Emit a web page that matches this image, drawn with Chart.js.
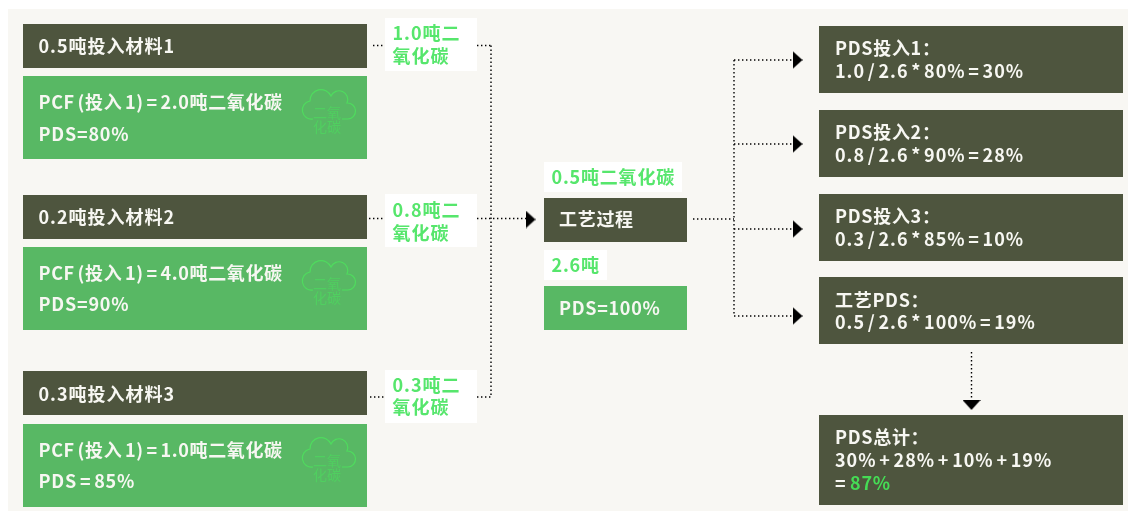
<!DOCTYPE html>
<html lang="zh"><head><meta charset="utf-8">
<style>html,body{margin:0;padding:0;background:#fff}canvas{display:block}</style>
<script src="https://cdn.jsdelivr.net/npm/chart.js@4/dist/chart.umd.min.js"></script>
</head><body><canvas id="c" width="1128" height="511"></canvas>
<script>
const inputLabels=['0.5吨投入材料1','0.2吨投入材料2','0.3吨投入材料3'];
const pcfLabels=['PCF (投入 1) = 2.0吨二氧化碳','PCF (投入 1) = 4.0吨二氧化碳','PCF (投入 1) = 1.0吨二氧化碳'];
const pdsLabels=['PDS=80%','PDS=90%','PDS = 85%'];
const co2Labels=[['1.0吨二','氧化碳'],['0.8吨二','氧化碳'],['0.3吨二','氧化碳']];
const processLabels=['0.5吨二氧化碳','工艺过程','2.6吨','PDS=100%'];
const resultTitles=['PDS投入1：','PDS投入2：','PDS投入3：','工艺PDS：','PDS总计：'];
const resultFormulas=['1.0 / 2.6 * 80% = 30%','0.8 / 2.6 * 90% = 28%','0.3 / 2.6 * 85% = 10%','0.5 / 2.6 * 100% = 19%','30% + 28% + 10% + 19%'];
const totalLabel='87%';
const cloudLabel=['二氧','化碳'];

const DARK='#4e553e',GREEN='#58b864',LIME='#56e66c',PANEL='#f8f7f3',WHITE='#ffffff';
const FONT='"Noto Sans CJK SC","Noto Sans",sans-serif';

const rects=[
 [8,9,1128,511,PANEL],
 [23,24,367,68,DARK],[23,76,367,159,GREEN],
 [23,195,367,239,DARK],[23,247,367,330,GREEN],
 [23,371,367,415,DARK],[23,424,367,507,GREEN],
 [385,18,477,71,WHITE],[385,194,477,247,WHITE],[385,370,477,423,WHITE],
 [544,162,682,192,WHITE],[544,198,687,242,DARK],[544,250,607,280,WHITE],[544,286,687,330,GREEN],
 [819,26,1123,93,DARK],[819,110,1123,177,DARK],[819,194,1123,261,DARK],[819,277,1123,344,DARK],[819,415,1123,505,DARK]
];
const W='#f7f7f2';
// [text, x, baseline, colour, letterSpacing, wordSpacing]
const texts=[
 [inputLabels[0],38.5,53,W,1,0],[inputLabels[1],38.5,224,W,1,0],[inputLabels[2],38.5,401,W,1,0],
 [pcfLabels[0],38.5,109,W,.65,-2],[pcfLabels[1],38.5,280,W,.65,-2],[pcfLabels[2],38.5,457,W,.65,-2],
 [pdsLabels[0],38.5,141,W,.8,0],[pdsLabels[1],38.5,311,W,.8,0],[pdsLabels[2],38.5,488,W,.8,-2],
 [co2Labels[0][0],392.5,40,LIME,1,0],[co2Labels[0][1],392.5,63,LIME,1,0],
 [co2Labels[1][0],392.5,217,LIME,1,0],[co2Labels[1][1],392.5,240,LIME,1,0],
 [co2Labels[2][0],392.5,392,LIME,1,0],[co2Labels[2][1],392.5,414,LIME,1,0],
 [processLabels[0],551.5,184,LIME,.8,0],[processLabels[1],559,226,W,.7,0],[processLabels[2],551.5,272,LIME,.8,0],[processLabels[3],559,315,W,.7,0],
 [resultTitles[0],835,55,W,.7,0],[resultFormulas[0],835,78,W,1,-2.4],
 [resultTitles[1],835,139,W,.7,0],[resultFormulas[1],835,162,W,1,-2.4],
 [resultTitles[2],835,223,W,.7,0],[resultFormulas[2],835,246,W,1,-2.4],
 [resultTitles[3],835,307,W,.7,0],[resultFormulas[3],835,329,W,1,-2.4],
 [resultTitles[4],835,444,W,.7,0],[resultFormulas[4],835,467,W,1,-2.4],
 ['=',835,490,W,.5,0],[totalLabel,850,490,'#45dc55',.8,0]
];
const cloudTops=[76,247,424];

const links=[
 [[373,45.5],[385,45.5]],[[477,45.5],[491,45.5]],
 [[491,45.5],[491,397]],
 [[369,218.5],[385,218.5]],[[477,218.5],[526,218.5]],
 [[370,397],[385,397]],[[477,397],[491,397]],
 [[693,219],[734,219]],[[734,60],[734,316]],
 [[734,60],[792,60]],[[734,144],[792,144]],[[734,229],[792,229]],[[734,316],[792,316]],
 [[971.5,352],[971.5,400]]
];
const arrows=[[530.5,219.5,0],[797.5,60,0],[797.5,144,0],[797.5,229,0],[797.5,316,0],[971.5,405,90]];

const tri=document.createElement('canvas');tri.width=10;tri.height=18;
{const g=tri.getContext('2d');g.fillStyle='#000';g.beginPath();g.moveTo(0,0);g.lineTo(10,9);g.lineTo(0,18);g.closePath();g.fill();}

const boxes={id:'boxes',beforeDatasetsDraw(ch){
 const {ctx,scales:{x,y}}=ch;ctx.save();
 for(const [a,b,c,d,col] of rects){
  const X=x.getPixelForValue(a),Y=y.getPixelForValue(b);
  ctx.fillStyle=col;ctx.fillRect(X,Y,x.getPixelForValue(c)-X,y.getPixelForValue(d)-Y);
 }
 ctx.restore();
},afterDatasetsDraw(ch){
 const {ctx,scales:{x,y}}=ch;ctx.save();
 ctx.textBaseline='alphabetic';ctx.textAlign='left';
 for(const [s,a,b,col,ls,ws] of texts){
  ctx.font='700 18px '+FONT;
  ctx.letterSpacing=ls+'px';ctx.wordSpacing=ws+'px';
  ctx.fillStyle=col;ctx.fillText(s,x.getPixelForValue(a),y.getPixelForValue(b));
 }
 ctx.wordSpacing='0px';ctx.letterSpacing='0px';
 const P=new Path2D('M23 45A9 9 0 0 1 20 27A11 11 0 0 1 41 22A8.5 8.5 0 0 1 57 29A8 8 0 0 1 58 45L52 45');
 for(const t of cloudTops){
  const ox=x.getPixelForValue(290),oy=y.getPixelForValue(t-2);
  ctx.save();ctx.translate(ox,oy);ctx.strokeStyle='#4fdb5e';ctx.lineWidth=1.2;ctx.stroke(P);ctx.restore();
  ctx.fillStyle='#50cf60';ctx.font='400 14px '+FONT;
  ctx.fillText(cloudLabel[0],x.getPixelForValue(313),y.getPixelForValue(t+42));
  ctx.fillText(cloudLabel[1],x.getPixelForValue(313),y.getPixelForValue(t+56));
 }
 ctx.restore();
}};

const linkSets=links.map(l=>({type:'line',data:l.map(p=>({x:p[0],y:p[1]})),borderColor:'#000',borderWidth:1.4,borderDash:[1.4,2.6],pointRadius:0,fill:false,tension:0}));
const arrowSet={type:'scatter',data:arrows.map(a=>({x:a[0],y:a[1]})),pointStyle:tri,rotation:arrows.map(a=>a[2]),pointRadius:9,backgroundColor:'#000'};

new Chart(document.getElementById('c'),{
 type:'scatter',
 data:{datasets:[...linkSets,arrowSet]},
 plugins:[boxes],
 options:{responsive:false,animation:false,devicePixelRatio:1,
  layout:{padding:0,autoPadding:false},
  plugins:{legend:{display:false},tooltip:{enabled:false},title:{display:false}},
  scales:{x:{type:'linear',min:0,max:1128,display:false},y:{type:'linear',min:0,max:511,reverse:true,display:false}}
 }
});
</script></body></html>
